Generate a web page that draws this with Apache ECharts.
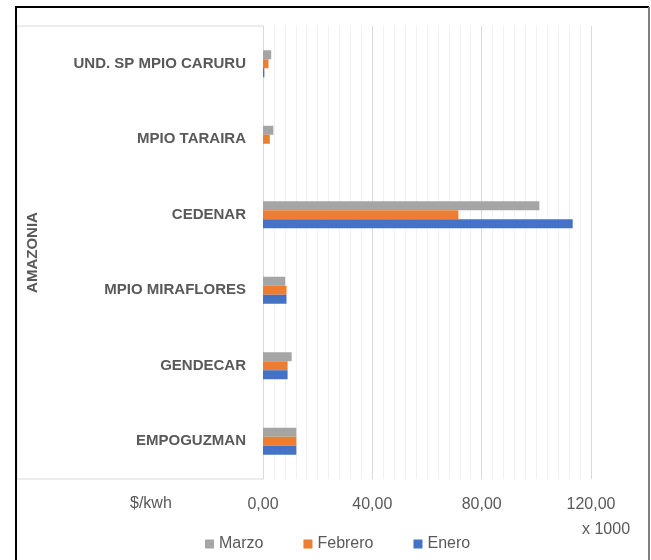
<!DOCTYPE html>
<html>
<head>
<meta charset="utf-8">
<script src="https://cdn.jsdelivr.net/npm/echarts@6/dist/echarts.min.js"></script>
<style>
html,body{margin:0;padding:0;background:#fff;}
#main{width:651px;height:560px;}
</style>
</head>
<body>
<div id="main"></div>
<script>
const categories = ['EMPOGUZMAN', 'GENDECAR', 'MPIO MIRAFLORES', 'CEDENAR', 'MPIO TARAIRA', 'UND. SP MPIO CARURU'];
const enero   = [12.2, 9.0, 8.6, 113.3, 0, 0.5];
const febrero = [12.2, 9.0, 8.6, 71.5, 2.5, 2.0];
const marzo   = [12.2, 10.5, 8.1, 101.1, 3.8, 3.0];
const legendOrder = ['Marzo', 'Febrero', 'Enero'];
const groupName = 'AMAZONIA';
const unitLabel = '$/kwh';
const scaleLabel = 'x 1000';

const FONT = '"Liberation Sans", Arial, sans-serif';
const TXT = '#595959';

const chart = echarts.init(document.getElementById('main'), null, {renderer: 'canvas'});
chart.setOption({
  animation: false,
  backgroundColor: '#fff',
  textStyle: {fontFamily: FONT},
  grid: {left: 263, right: 60, top: 26, bottom: 81, containLabel: false},
  legend: {
    data: legendOrder,
    left: 200, top: 531,
    itemWidth: 9, itemHeight: 9, itemGap: 40,
    icon: 'rect',
    textStyle: {color: TXT, fontSize: 16, fontFamily: FONT}
  },
  xAxis: {
    type: 'value', min: 0, max: 120, interval: 40,
    axisLine: {show: false}, axisTick: {show: false},
    axisLabel: {color: TXT, fontSize: 16, margin: 18, fontFamily: FONT,
      formatter: v => v.toFixed(2).replace('.', ',')},
    splitLine: {show: true, lineStyle: {color: '#d9d9d9', width: 1}},
    minorTick: {show: false, splitNumber: 10},
    minorSplitLine: {show: true, lineStyle: {color: '#f0f0f0', width: 1}}
  },
  yAxis: {
    type: 'category', data: categories,
    name: groupName, nameLocation: 'middle', nameRotate: 90, nameGap: 223,
    nameTextStyle: {color: TXT, fontSize: 15, fontWeight: 'bold', fontFamily: FONT},
    axisLine: {show: true, lineStyle: {color: '#d9d9d9', width: 1}},
    axisTick: {show: false},
    axisLabel: {color: TXT, fontSize: 15, fontWeight: 'bold', margin: 17, fontFamily: FONT},
    splitLine: {show: false}
  },
  series: [
    {name: 'Marzo', type: 'bar', data: marzo, barWidth: 9, barGap: '0%', itemStyle: {color: '#A5A5A5'}},
    {name: 'Febrero', type: 'bar', data: febrero, barWidth: 9, barGap: '0%', itemStyle: {color: '#ED7D31'}},
    {name: 'Enero', type: 'bar', data: enero, barWidth: 9, barGap: '0%', itemStyle: {color: '#4472C4'}}
  ],
  graphic: [
    {type: 'polyline', silent: true, z: 100,
      shape: {points: [[263, 26], [17, 26], [17, 479], [263, 479]]},
      style: {stroke: '#d9d9d9', lineWidth: 1, fill: null}},
    {type: 'polyline', silent: true, z: 101,
      shape: {points: [[16, 562], [16, 7], [649, 7]]},
      style: {stroke: '#000', lineWidth: 2, fill: null}},
    {type: 'line', silent: true, z: 101,
      shape: {x1: 649, y1: 7, x2: 649, y2: 562},
      style: {stroke: '#7f7f7f', lineWidth: 2}},
    {type: 'text', left: 130, top: 496, silent: true,
      style: {text: unitLabel, fill: TXT, font: '16px ' + FONT}},
    {type: 'text', left: 582, top: 522, silent: true,
      style: {text: scaleLabel, fill: TXT, font: '16px ' + FONT}}
  ]
});
</script>
</body>
</html>
